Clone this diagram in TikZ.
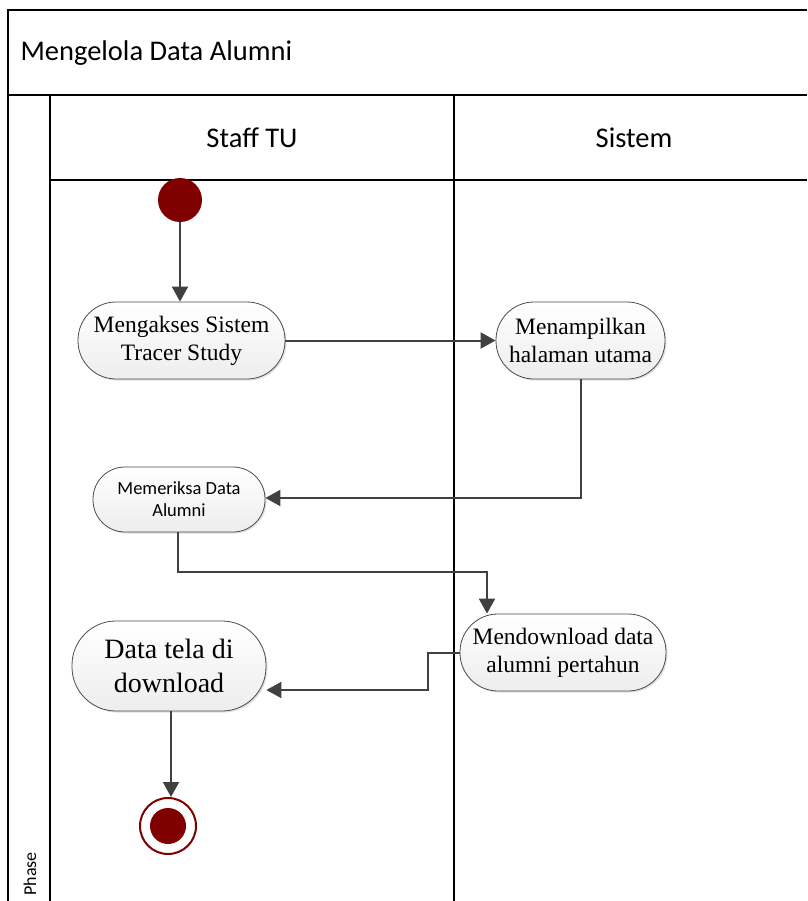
\documentclass[tikz,border=0pt]{standalone}
\usepackage{fontspec}
\setmainfont{Liberation Serif}
\newfontfamily\calibri{Carlito}
\usetikzlibrary{arrows.meta,shadows}
\definecolor{maroon}{HTML}{800000}
\definecolor{flowgray}{HTML}{404040}
\tikzset{
  frame/.style={line width=1.6pt,black},
  action/.style={draw=black!70,line width=0.8pt,top color=white,bottom color=black!7,
    align=center,inner sep=0pt,
    drop shadow={shadow xshift=1.5pt,shadow yshift=-1.5pt,opacity=0.25}},
  flow/.style={draw=flowgray,line width=2pt,-{Triangle[length=15pt,width=16pt]}},
  lanefont/.style={font=\calibri\fontsize{28.5}{34}\selectfont},
  serifbig/.style={font=\fontsize{23.5}{28}\selectfont},
}
\begin{document}
\begin{tikzpicture}[x=1pt,y=-1pt]
\useasboundingbox (0,0) rectangle (807,901);
% swimlane frame
\draw[frame] (8,901) -- (8,10) -- (807,10);
\draw[frame] (8,95) -- (807,95);
\draw[frame] (50,95) -- (50,901);
\draw[frame] (50,180) -- (807,180);
\draw[frame] (454,95) -- (454,901);
\node[anchor=west,lanefont] (title) at (17,53) {Mengelola Data Alumni};
\node[lanefont] (laneA) at (252,138) {Staff TU};
\node[lanefont] (laneB) at (634,138) {Sistem};
\node[rotate=90,anchor=west,font=\calibri\fontsize{18}{21}\selectfont] (phase) at (30,899) {Phase};
% start and end
\node[circle,fill=maroon,minimum size=44pt,inner sep=0pt] (start) at (180,200) {};
\node[circle,draw=maroon,line width=2pt,fill=white,minimum size=56pt,inner sep=0pt] (end) at (168,826) {};
\node[circle,fill=maroon,minimum size=36pt,inner sep=0pt] at (end.center) {};
% actions
\node[action,minimum width=207pt,minimum height=77pt,rounded corners=38pt,
  serifbig] (akses) at (181.5,340.5) {Mengakses Sistem\\Tracer Study};
\node[action,minimum width=169pt,minimum height=77pt,rounded corners=38pt,
  serifbig] (tampil) at (580.5,340.5) {Menampilkan\\halaman utama};
\node[action,minimum width=172pt,minimum height=65pt,rounded corners=32pt,
  font=\calibri\fontsize{18.5}{22}\selectfont] (periksa) at (179,499.5) {Memeriksa Data\\Alumni};
\node[action,minimum width=206pt,minimum height=77pt,rounded corners=38pt,
  serifbig] (unduh) at (563,652.5) {Mendownload data\\alumni pertahun};
\node[action,minimum width=194pt,minimum height=90pt,rounded corners=44pt,
  font=\fontsize{28}{34}\selectfont] (selesai) at (169,666) {Data tela di\\download};
% control flow
\draw[flow] (start) -- (start |- akses.north);
\draw[flow] (akses) -- (tampil);
\draw[flow] (tampil.south -| 581,0) -- (581,498) -- (periksa.east |- 0,498);
\draw[flow] (periksa.south -| 178,0) -- (178,572) -- (487,572) -- (unduh.north -| 487,0);
\draw[flow] (unduh.west) -- (428,652.5) -- (428,690) -- (selesai.east |- 0,690);
\draw[flow] (selesai.south -| 171,0) -- (end.north -| 171,0);
\end{tikzpicture}
\end{document}
